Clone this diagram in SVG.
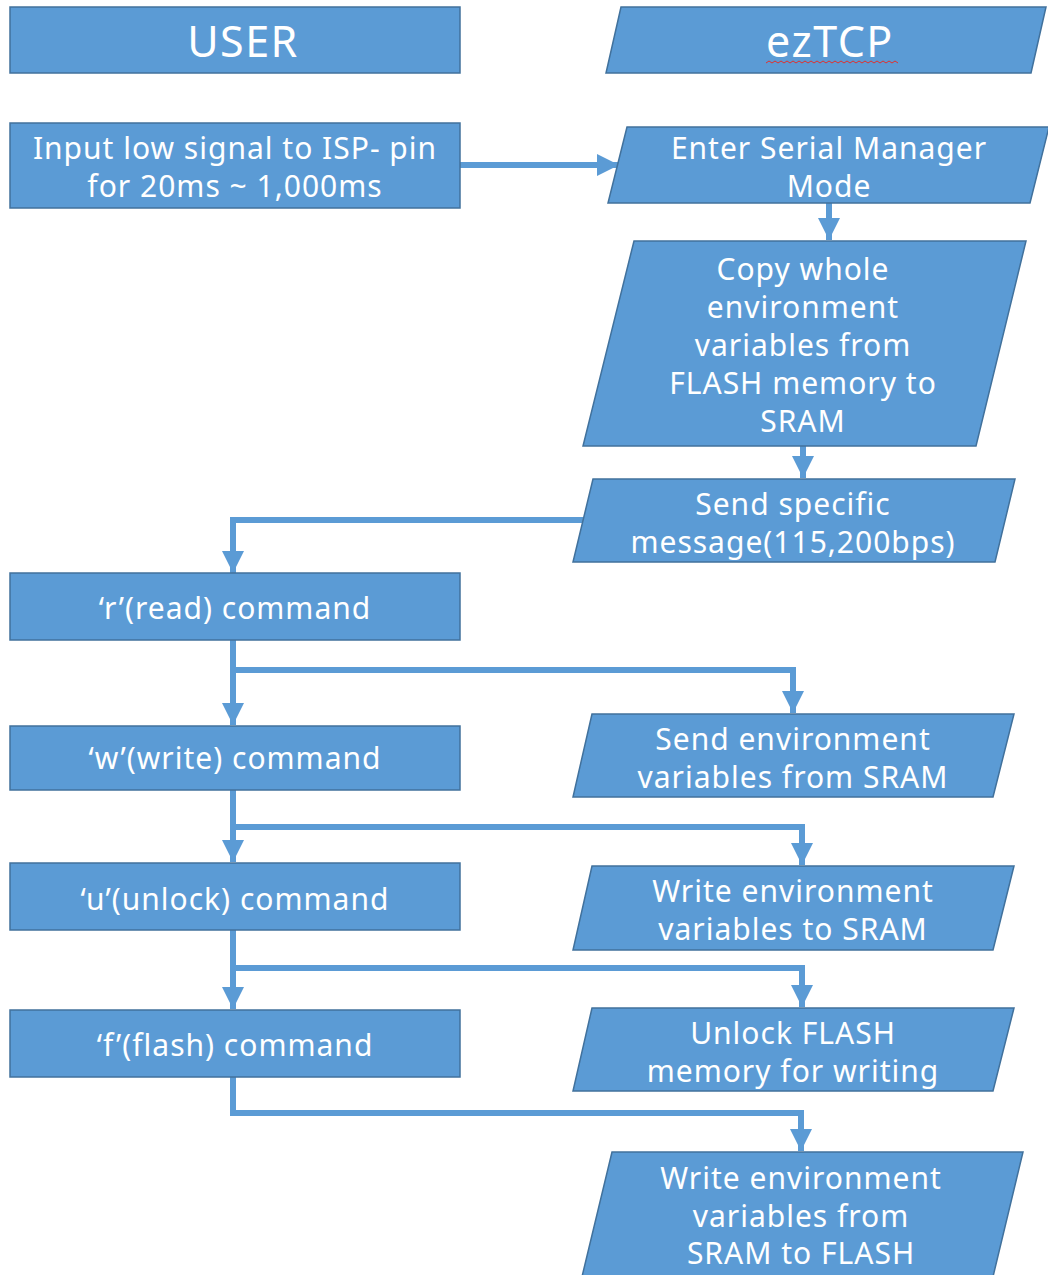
<svg xmlns="http://www.w3.org/2000/svg" width="1048" height="1275" viewBox="0 0 1048 1275">
<defs>
<style>
.box{fill:#5B9BD5;stroke:#41719C;stroke-width:1.5}
.t{font-family:"Noto Sans","Open Sans",sans-serif;font-size:30px;letter-spacing:1px;fill:#ffffff;text-anchor:middle;dominant-baseline:central}
.h{font-size:43px;letter-spacing:1.5px}
.c{fill:none;stroke:#5B9BD5;stroke-width:6}
</style>
<marker id="ah" markerUnits="userSpaceOnUse" markerWidth="24" markerHeight="24" viewBox="0 0 24 24" refX="22" refY="12" orient="auto">
<path d="M0,1 L22,12 L0,23 Z" fill="#5B9BD5"/>
</marker>
</defs>
<rect width="1048" height="1275" fill="#ffffff"/>
<g id="connectors">
<path class="c" d="M460,165 H619" marker-end="url(#ah)"/>
<path class="c" d="M829,203 V240" marker-end="url(#ah)"/>
<path class="c" d="M803,446 V478" marker-end="url(#ah)"/>
<path class="c" d="M585,520 H233 V573" marker-end="url(#ah)"/>
<path class="c" d="M233,640 V725" marker-end="url(#ah)"/>
<path class="c" d="M233,670 H793 V713" marker-end="url(#ah)"/>
<path class="c" d="M233,790 V862" marker-end="url(#ah)"/>
<path class="c" d="M233,827 H802 V865" marker-end="url(#ah)"/>
<path class="c" d="M233,930 V1009" marker-end="url(#ah)"/>
<path class="c" d="M233,968 H802 V1007" marker-end="url(#ah)"/>
<path class="c" d="M233,1077 V1113 H801 V1151" marker-end="url(#ah)"/>
</g>
<g id="user-header">
<rect class="box" x="10" y="7" width="450" height="66"/>
<text class="t h" x="243" y="40">USER</text>
</g>
<g id="eztcp-header">
<polygon class="box" points="621,7 1046,7 1031,73 606,73"/>
<text class="t h" x="830" y="40">ezTCP</text>
<path d="M766,63 l3,-2 l3,2 l3,-2 l3,2 l3,-2 l3,2 l3,-2 l3,2 l3,-2 l3,2 l3,-2 l3,2 l3,-2 l3,2 l3,-2 l3,2 l3,-2 l3,2 l3,-2 l3,2 l3,-2 l3,2 l3,-2 l3,2 l3,-2 l3,2 l3,-2 l3,2 l3,-2 l3,2 l3,-2 l3,2 l3,-2 l3,2 l3,-2 l3,2 l3,-2 l3,2 l3,-2 l3,2 l3,-2 l3,2 l3,-2 l3,2" fill="none" stroke="#E0312E" stroke-width="1"/>
</g>
<g id="input-signal">
<rect class="box" x="10" y="123" width="450" height="85"/>
<text class="t" x="235" y="147">Input low signal to ISP- pin</text>
<text class="t" x="235" y="185">for 20ms ~ 1,000ms</text>
</g>
<g id="enter-serial">
<polygon class="box" points="627,127 1049,127 1030,203 608,203"/>
<text class="t" x="829" y="147">Enter Serial Manager</text>
<text class="t" x="829" y="185">Mode</text>
</g>
<g id="copy-env">
<polygon class="box" points="634,241 1026,241 976,446 583,446"/>
<text class="t" x="803" y="268">Copy whole</text>
<text class="t" x="803" y="306">environment</text>
<text class="t" x="803" y="344">variables from</text>
<text class="t" x="803" y="382">FLASH memory to</text>
<text class="t" x="803" y="420">SRAM</text>
</g>
<g id="send-specific">
<polygon class="box" points="593,479 1015,479 995,562 573,562"/>
<text class="t" x="793" y="503">Send specific</text>
<text class="t" x="793" y="541">message(115,200bps)</text>
</g>
<g id="read-cmd">
<rect class="box" x="10" y="573" width="450" height="67"/>
<text class="t" x="235" y="607">‘r’(read) command</text>
</g>
<g id="write-cmd">
<rect class="box" x="10" y="726" width="450" height="64"/>
<text class="t" x="235" y="757">‘w’(write) command</text>
</g>
<g id="send-env">
<polygon class="box" points="592,714 1014,714 993,797 573,797"/>
<text class="t" x="793" y="738">Send environment</text>
<text class="t" x="793" y="776">variables from SRAM</text>
</g>
<g id="unlock-cmd">
<rect class="box" x="10" y="863" width="450" height="67"/>
<text class="t" x="235" y="898">‘u’(unlock) command</text>
</g>
<g id="write-env-sram">
<polygon class="box" points="592,866 1014,866 993,950 573,950"/>
<text class="t" x="793" y="890">Write environment</text>
<text class="t" x="793" y="928">variables to SRAM</text>
</g>
<g id="flash-cmd">
<rect class="box" x="10" y="1010" width="450" height="67"/>
<text class="t" x="235" y="1044">‘f’(flash) command</text>
</g>
<g id="unlock-flash">
<polygon class="box" points="592,1008 1014,1008 993,1091 573,1091"/>
<text class="t" x="793" y="1032">Unlock FLASH</text>
<text class="t" x="793" y="1070">memory for writing</text>
</g>
<g id="write-env-flash">
<polygon class="box" points="612,1152 1023,1152 991,1285 580,1285"/>
<text class="t" x="801" y="1177">Write environment</text>
<text class="t" x="801" y="1215">variables from</text>
<text class="t" x="801" y="1252">SRAM to FLASH</text>
</g>
</svg>
